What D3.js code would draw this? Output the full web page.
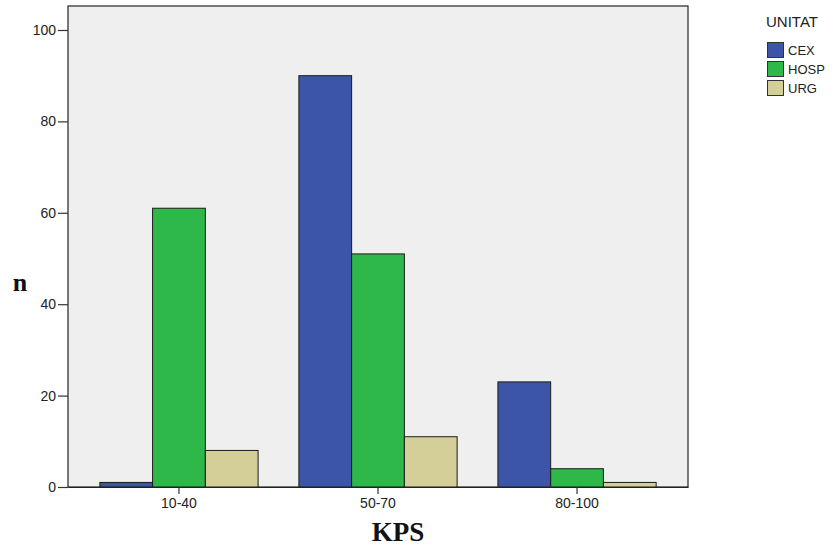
<!DOCTYPE html>
<html><head><meta charset="utf-8">
<script src="https://cdn.jsdelivr.net/npm/d3@7"></script>
<style>body{margin:0;background:#fff;} svg{display:block;}</style>
</head><body>
<script>
const categories = ["10-40", "50-70", "80-100"];
const seriesNames = ["CEX", "HOSP", "URG"];
const cexValues = [1, 90, 23];
const hospValues = [61, 51, 4];
const urgValues = [8, 11, 1];
const yTicks = [0, 20, 40, 60, 80, 100];
const colors = ["#3d55a8", "#2fb84a", "#d4cf99"];

const W = 834, H = 548;
const L = 68, R = 688, T = 6, B = 487;
const svg = d3.select("body").append("svg").attr("width", W).attr("height", H);

const values = [cexValues, hospValues, urgValues];
const data = categories.map((c, i) => ({cat: c, vals: seriesNames.map((s, j) => ({s, v: values[j][i], j}))}));

const x = d3.scaleBand().domain(categories).range([L, R]).paddingInner(0.205).paddingOuter(0.16);
const xs = d3.scaleBand().domain(seriesNames).range([0, x.bandwidth()]);
const y = d3.scaleLinear().domain([0, 100]).range([B, 30]);

svg.append("rect").attr("x", L).attr("y", T).attr("width", R - L).attr("height", B - T)
  .attr("fill", "#efefef").attr("stroke", "#222").attr("stroke-width", 1.2);

const g = svg.append("g");
data.forEach(d => {
  g.selectAll(null).data(d.vals).enter().append("rect")
    .attr("x", v => x(d.cat) + xs(v.s))
    .attr("y", v => y(v.v))
    .attr("width", xs.bandwidth())
    .attr("height", v => B - y(v.v))
    .attr("fill", v => colors[v.j])
    .attr("stroke", "#1a1a1a").attr("stroke-width", 1);
});

const yAxis = svg.append("g").attr("transform", `translate(${L},0)`)
  .call(d3.axisLeft(y).tickValues(yTicks).tickSizeInner(10).tickSizeOuter(0).tickPadding(2));
yAxis.select(".domain").remove();
yAxis.selectAll(".tick line").attr("stroke", "#333").attr("stroke-width", 1.2);
yAxis.selectAll(".tick text").attr("font-family", "Liberation Sans, Arial, sans-serif").attr("font-size", 14).attr("fill", "#222");

const xAxis = svg.append("g").attr("transform", `translate(0,${B})`)
  .call(d3.axisBottom(x).tickSizeInner(7).tickSizeOuter(0).tickPadding(4));
xAxis.select(".domain").attr("stroke", "#222").attr("stroke-width", 1.2);
xAxis.selectAll(".tick line").attr("stroke", "#333").attr("stroke-width", 1.2);
xAxis.selectAll(".tick text").attr("font-family", "Liberation Sans, Arial, sans-serif").attr("font-size", 14).attr("fill", "#222");

svg.append("text").attr("x", 20).attr("y", 291).attr("text-anchor", "middle")
  .attr("font-family", "Liberation Serif, Times New Roman, serif").attr("font-weight", "bold")
  .attr("font-size", 26).attr("fill", "#111").text("n");
svg.append("text").attr("x", 398).attr("y", 541).attr("text-anchor", "middle")
  .attr("font-family", "Liberation Serif, Times New Roman, serif").attr("font-weight", "bold")
  .attr("font-size", 27).attr("fill", "#111").text("KPS");

const leg = svg.append("g");
leg.append("text").attr("x", 766).attr("y", 27).attr("font-family", "Liberation Sans, Arial, sans-serif")
  .attr("font-size", 15).attr("fill", "#222").text("UNITAT");
seriesNames.forEach((s, i) => {
  leg.append("rect").attr("x", 767.5).attr("y", 42.5 + i * 19).attr("width", 16).attr("height", 15)
    .attr("fill", colors[i]).attr("stroke", "#333").attr("stroke-width", 1);
  leg.append("text").attr("x", 788).attr("y", 55 + i * 19).attr("font-family", "Liberation Sans, Arial, sans-serif")
    .attr("font-size", 13).attr("fill", "#222").text(s);
});
</script>
</body></html>
